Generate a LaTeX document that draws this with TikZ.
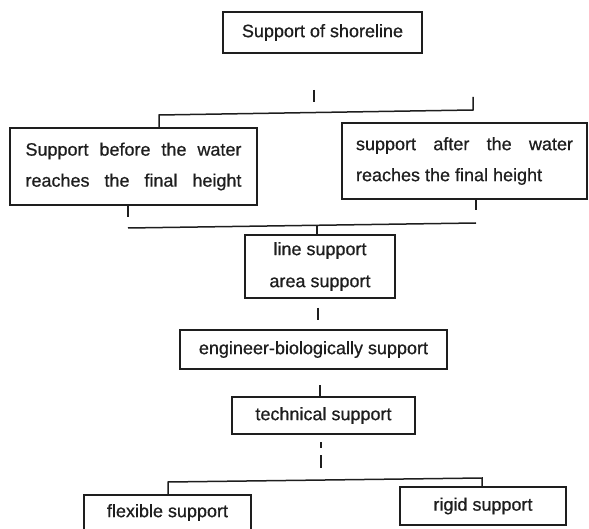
\documentclass[tikz,border=0pt]{standalone}
\usepackage{fontspec}
\setmainfont[FakeBold=0.7]{Liberation Sans}
\definecolor{ink}{HTML}{1E1E1E}
\begin{document}
\begin{tikzpicture}[x=1pt,y=-1pt,
  box/.style={draw=ink, line width=1.5pt, text=ink, inner sep=0pt, align=center,
    font=\fontsize{18}{31}\selectfont},
  conn/.style={draw=ink, line width=1.5pt}]
\useasboundingbox (0,0) rectangle (589,529);
\clip (0,0) rectangle (589,529);
% boxes
\node[box, minimum width=199pt, minimum height=41pt] (top) at (322.5,32.5) {Support of shoreline};
\node[box, minimum width=247pt, minimum height=77pt] (lb) at (133.5,166.5)
  {\makebox[216pt][s]{Support before the water}\\\makebox[216pt][s]{reaches the final height}};
\node[box, align=left, minimum width=245pt, minimum height=76pt] (rb) at (464.5,161)
  {\makebox[217pt][s]{support after the water}\\reaches the final height};
\node[box, minimum width=150pt, minimum height=63pt, font=\fontsize{18}{32}\selectfont] (ls) at (320,266.5)
  {line support\\area support};
\node[box, minimum width=267pt, minimum height=39pt] (eb) at (313.5,349.5) {engineer-biologically support};
\node[box, minimum width=183pt, minimum height=37pt] (ts) at (323.5,415.5) {technical support};
\node[box, minimum width=167pt, minimum height=35pt] (fs) at (167.5,512.5) {flexible support};
\node[box, minimum width=166pt, minimum height=38pt] (rs) at (483,506) {rigid support};
% coordinates
\coordinate (t1a) at (314,90);  \coordinate (t1b) at (314,102);
\coordinate (c2) at (473,97);   \coordinate (c3) at (473,110); \coordinate (c4) at (159,115);
\coordinate (t2) at (128,217);  \coordinate (t3) at (476,210);
\coordinate (h1) at (128,228);  \coordinate (h2) at (476,223); \coordinate (j2) at (317,225.6);
\coordinate (t4a) at (318,308); \coordinate (t4b) at (318,320);
\coordinate (t5) at (320,385);
\coordinate (d1a) at (321,442); \coordinate (d1b) at (321,448);
\coordinate (d2a) at (321,455); \coordinate (d2b) at (321,468);
\coordinate (b1) at (168,482);  \coordinate (b2) at (482,478);
% connectors
\draw[conn] (t1a) -- (t1b);
\draw[conn] (c2) -- (c3) -- (c4) -- (lb.north -| c4);
\draw[conn] (lb.south -| t2) -- (t2);
\draw[conn] (rb.south -| t3) -- (t3);
\draw[conn] (h1) -- (h2);
\draw[conn] (j2) -- (ls.north -| j2);
\draw[conn] (t4a) -- (t4b);
\draw[conn] (t5) -- (ts.north -| t5);
\draw[conn] (d1a) -- (d1b);
\draw[conn] (d2a) -- (d2b);
\draw[conn] (fs.north -| b1) -- (b1) -- (b2) -- (rs.north -| b2);
\end{tikzpicture}
\end{document}
